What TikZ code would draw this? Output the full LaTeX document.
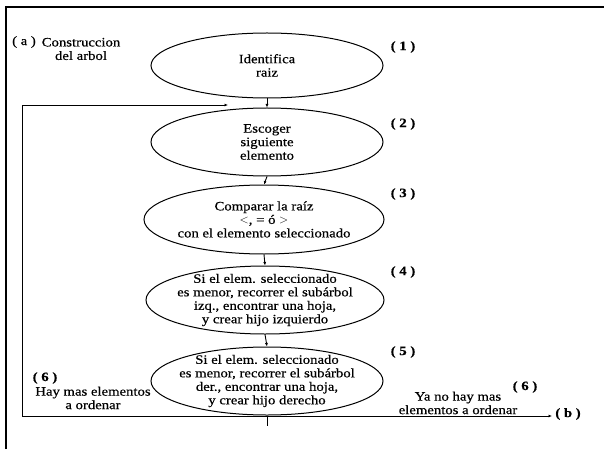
\documentclass[tikz,border=0pt]{standalone}
\usepackage{fontspec}
\setmainfont{Liberation Serif}[FakeStretch=1.15,FakeBold=0.5]
\usetikzlibrary{shapes.geometric,arrows.meta}
\begin{document}
\begin{tikzpicture}[x=1pt,y=-1pt,
  proc/.style={draw, ellipse, line width=1pt, inner sep=0pt},
  txt/.style={align=center, font=\fontsize{12.8}{13.5}\selectfont, inner sep=0pt},
  num/.style={font=\fontsize{12.8}{13.5}\selectfont\bfseries, inner sep=0pt},
  flow/.style={line width=0.9pt, -{Latex[length=3.5pt,width=3pt]}},
  wire/.style={line width=0.9pt}]
\useasboundingbox (0,0) rectangle (604,449);

% outer frame
\draw[line width=1.6pt] (6,449) -- (6,7) -- (604,7);

% process steps
\node[proc, minimum width=232, minimum height=65] (e1) at (267,65.5) {};
\node[proc, minimum width=232, minimum height=68] (e2) at (267,142) {};
\node[proc, minimum width=240, minimum height=69] (e3) at (264,219.5) {};
\node[proc, minimum width=238, minimum height=68] (e4) at (265,300) {};
\node[proc, minimum width=232, minimum height=68] (e5) at (267,381) {};

\node[txt] (t1) at (e1) {Identifica\\raiz};
\node[txt] (t2) at (e2) {Escoger\\siguiente\\elemento};
\node[txt] (t3) at (e3) {Comparar la raíz\\$<$, = ó $>$\\con el elemento seleccionado};
\node[txt] (t4) at (e4) {Si el elem. seleccionado\\es menor, recorrer el subárbol\\izq., encontrar una hoja,\\y crear hijo izquierdo};
\node[txt] (t5) at (e5) {Si el elem. seleccionado\\es menor, recorrer el subárbol\\der., encontrar una hoja,\\y crear hijo derecho};

% step numbers
\node[num] (n1) at (403,47) {( 1 )};
\node[num] (n2) at (403,124) {( 2 )};
\node[num] (n3) at (403,194) {( 3 )};
\node[num] (n4) at (403,272) {( 4 )};
\node[num] (n5) at (403,352) {( 5 )};
\node[num] (n6a) at (45,378) {( 6 )};
\node[num] (n6b) at (525,387) {( 6 )};

% side notes
\node[txt] (pa) at (24,42) {( a )};
\node[txt] (ta) at (81,49) {Construccion\\del arbol};
\node[txt] (hay) at (93,398) {Hay mas elementos\\a ordenar};
\node[txt] (yano) at (458,403) {Ya no hay mas\\elementos a ordenar};
\node[num] (pb) at (568,414) {( b )};

% flow between steps
\draw[flow] (e1.south) -- (e2.north);
\draw[flow] (e2.south) -- (e3.north);
\draw[flow] (e3.south) -- (e4.north);
\draw[flow] (e4.south) -- (e5.north);

% loop back and exit
\coordinate (j) at (267,416);
\coordinate (top) at (228,105);
\coordinate (out) at (552,416);
\draw[wire] (e5.south) -- (267,426);
\draw[flow] (j) -| (22,105) -- (top);
\draw[flow] (j) -- (out);
\end{tikzpicture}
\end{document}
